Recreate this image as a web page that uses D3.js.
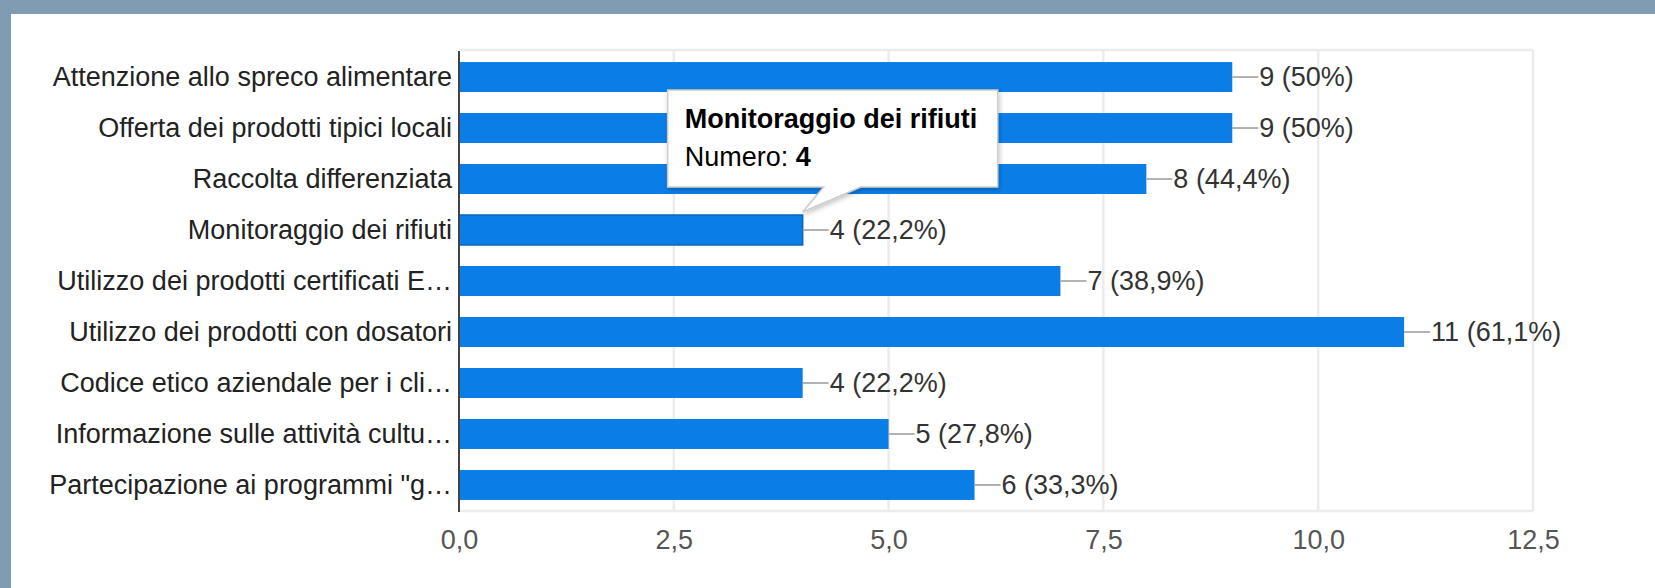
<!DOCTYPE html>
<html>
<head>
<meta charset="utf-8">
<script src="https://cdn.jsdelivr.net/npm/d3@7"></script>
<style>
  html, body { margin: 0; padding: 0; background: #ffffff; }
  svg { display: block; }
  text { font-family: "Liberation Sans", Arial, sans-serif; }
</style>
</head>
<body>
<svg id="chart" width="1655" height="588"></svg>
<script>
// ---- data ----
const categories = [
  "Attenzione allo spreco alimentare",
  "Offerta dei prodotti tipici locali",
  "Raccolta differenziata",
  "Monitoraggio dei rifiuti",
  "Utilizzo dei prodotti certificati E\u2026",
  "Utilizzo dei prodotti con dosatori",
  "Codice etico aziendale per i cli\u2026",
  "Informazione sulle attivit\u00e0 cultu\u2026",
  "Partecipazione ai programmi \"g\u2026"
];
const counts = [9, 9, 8, 4, 7, 11, 4, 5, 6];
const percents = ["50%", "50%", "44,4%", "22,2%", "38,9%", "61,1%", "22,2%", "27,8%", "33,3%"];
const tickValues = [0, 2.5, 5, 7.5, 10, 12.5];
const tooltipIndex = 3;
const tooltipTitle = "Monitoraggio dei rifiuti";
const tooltipLabel = "Numero: ";

// ---- layout ----
const W = 1655, H = 588;
const svg = d3.select("#chart");

// frame background (blue-grey border top & left)
svg.append("rect").attr("x", 0).attr("y", 0).attr("width", W).attr("height", H).attr("fill", "#7f9cb3");
svg.append("rect").attr("x", 11).attr("y", 14).attr("width", W - 11).attr("height", H - 14).attr("fill", "#ffffff");

const x = d3.scaleLinear().domain([0, 12.5]).range([459, 1533]);
const y = d3.scaleBand().domain(categories).range([50, 512]).paddingInner(0.412).paddingOuter(0.236);

const fmt = v => d3.format(".1f")(v).replace(".", ",");

// chart area light border and gridlines
const grid = svg.append("g");
grid.selectAll("line.g").data(tickValues.filter(v => v > 0)).join("line")
  .attr("x1", d => x(d)).attr("x2", d => x(d))
  .attr("y1", 50).attr("y2", 511)
  .attr("stroke", "#ececec").attr("stroke-width", 2.5);
grid.append("line").attr("x1", x(0)).attr("x2", x(12.5)).attr("y1", 50).attr("y2", 50)
  .attr("stroke", "#ececec").attr("stroke-width", 2.5);
grid.append("line").attr("x1", x(0)).attr("x2", x(12.5)).attr("y1", 511).attr("y2", 511)
  .attr("stroke", "#ececec").attr("stroke-width", 2.5);

// bars
svg.append("g").selectAll("rect").data(categories).join("rect")
  .attr("x", x(0))
  .attr("y", d => y(d))
  .attr("width", (d, i) => x(counts[i]) - x(0))
  .attr("height", y.bandwidth())
  .attr("fill", "#0a7ee6")
  .attr("stroke", (d, i) => i === tooltipIndex ? "#0867bd" : "none")
  .attr("stroke-width", (d, i) => i === tooltipIndex ? 1.5 : 0);

// baseline axis at zero
svg.append("line").attr("x1", x(0)).attr("x2", x(0)).attr("y1", 51).attr("y2", 512)
  .attr("stroke", "#444444").attr("stroke-width", 2);

// category labels
svg.append("g").selectAll("text").data(categories).join("text")
  .attr("x", x(0) - 7)
  .attr("y", d => y(d) + y.bandwidth() / 2)
  .attr("dy", "0.35em")
  .attr("text-anchor", "end")
  .attr("font-size", 27)
  .attr("fill", "#222222")
  .text(d => d);

// value annotations
const ann = svg.append("g");
ann.selectAll("line").data(categories).join("line")
  .attr("x1", (d, i) => x(counts[i]))
  .attr("x2", (d, i) => x(counts[i]) + 26)
  .attr("y1", d => y(d) + y.bandwidth() / 2)
  .attr("y2", d => y(d) + y.bandwidth() / 2)
  .attr("stroke", "#999999").attr("stroke-width", 1.5);
ann.selectAll("text").data(categories).join("text")
  .attr("x", (d, i) => x(counts[i]) + 27)
  .attr("y", d => y(d) + y.bandwidth() / 2)
  .attr("dy", "0.35em")
  .attr("font-size", 27)
  .attr("fill", "#333333")
  .text((d, i) => `${counts[i]} (${percents[i]})`);

// x axis tick labels
const xAxis = d3.axisBottom(x).tickValues(tickValues).tickFormat(fmt).tickSize(0).tickPadding(0);
const ax = svg.append("g").attr("transform", "translate(0,530)").call(xAxis);
ax.select(".domain").remove();
ax.selectAll("text").attr("font-size", 27).attr("fill", "#555555")
  .attr("font-family", "\"Liberation Sans\", Arial, sans-serif").attr("dy", "0.71em");

// tooltip
const defs = svg.append("defs");
const f = defs.append("filter").attr("id", "shadow").attr("x", "-10%").attr("y", "-10%").attr("width", "130%").attr("height", "140%");
f.append("feDropShadow").attr("dx", 1).attr("dy", 2).attr("stdDeviation", 2.5).attr("flood-color", "#000").attr("flood-opacity", 0.25);

const tipX = x(counts[tooltipIndex]);
const tipY = y(categories[tooltipIndex]) - 3;
const bx = tipX - 135, by = tipY - 122, bw = 330, bh = 97;
const tt = svg.append("g");
tt.append("path")
  .attr("d", `M${bx},${by} H${bx + bw} V${by + bh} H${tipX + 58} L${tipX},${tipY} L${tipX + 21},${by + bh} H${bx} Z`)
  .attr("fill", "#ffffff").attr("stroke", "#cccccc").attr("stroke-width", 1.5)
  .attr("filter", "url(#shadow)");
tt.append("text").attr("x", bx + 17).attr("y", by + 38)
  .attr("font-size", 27).attr("font-weight", "bold").attr("fill", "#000000")
  .text(tooltipTitle);
const t2 = tt.append("text").attr("x", bx + 17).attr("y", by + 76)
  .attr("font-size", 27).attr("fill", "#000000");
t2.append("tspan").text(tooltipLabel);
t2.append("tspan").attr("font-weight", "bold").text(counts[tooltipIndex]);
</script>
</body>
</html>
